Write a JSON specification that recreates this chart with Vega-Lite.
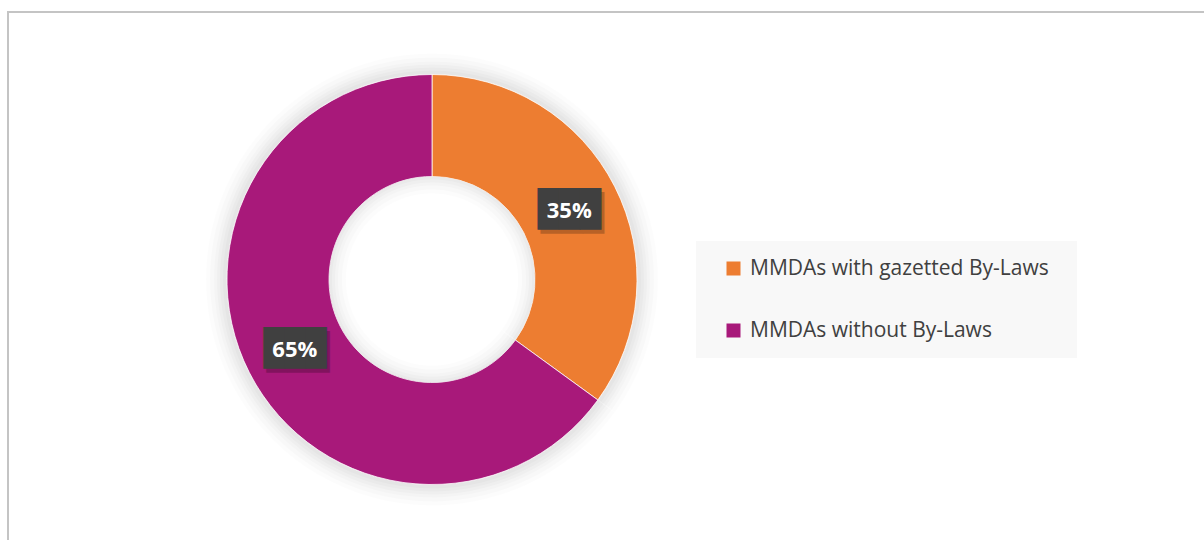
{
  "$schema": "https://vega.github.io/schema/vega-lite/v6.json",
  "width": 1200,
  "height": 540,
  "autosize": {"type": "none"},
  "padding": {"left": 8, "top": 12, "right": 0, "bottom": 0},
  "background": "#FFFFFF",
  "config": {"view": {"stroke": "#C4C4C4", "strokeWidth": 2}},
  "data": {"values": [
    {"category": "MMDAs with gazetted By-Laws", "value": 35, "label": "35%"},
    {"category": "MMDAs without By-Laws", "value": 65, "label": "65%"}
  ]},
  "encoding": {
    "theta": {"field": "value", "type": "quantitative", "stack": true},
    "x": {"value": 424},
    "y": {"value": 267.5}
  },
  "layer": [
    {"mark": {"type": "arc", "fill": "#000", "opacity": 0.012, "innerRadius": 205, "outerRadius": 226}, "encoding": {"detail": {"field": "category"}}},
    {"mark": {"type": "arc", "fill": "#000", "opacity": 0.014, "innerRadius": 205, "outerRadius": 222}, "encoding": {"detail": {"field": "category"}}},
    {"mark": {"type": "arc", "fill": "#000", "opacity": 0.016, "innerRadius": 205, "outerRadius": 218}, "encoding": {"detail": {"field": "category"}}},
    {"mark": {"type": "arc", "fill": "#000", "opacity": 0.018, "innerRadius": 205, "outerRadius": 215}, "encoding": {"detail": {"field": "category"}}},
    {"mark": {"type": "arc", "fill": "#000", "opacity": 0.02, "innerRadius": 205, "outerRadius": 212}, "encoding": {"detail": {"field": "category"}}},
    {"mark": {"type": "arc", "fill": "#000", "opacity": 0.02, "innerRadius": 205, "outerRadius": 209}, "encoding": {"detail": {"field": "category"}}},
    {
      "mark": {"type": "arc", "innerRadius": 103, "outerRadius": 205, "stroke": "#FFFFFF", "strokeWidth": 0.75},
      "encoding": {
        "color": {
          "field": "category", "type": "nominal",
          "scale": {"domain": ["MMDAs with gazetted By-Laws", "MMDAs without By-Laws"], "range": ["#ED7D31", "#A8197A"]},
          "legend": {
            "title": ".", "titleOrient": "right", "titleColor": "rgba(0,0,0,0)", "titleFontSize": 10, "titlePadding": 8,
            "orient": "none", "legendX": 688, "legendY": 229,
            "fillColor": "#F8F8F8", "padding": 17, "symbolOffset": 10,
            "symbolType": "square", "symbolSize": 196, "symbolStrokeWidth": 0,
            "labelFont": "Open Sans", "labelFontSize": 21, "labelColor": "#404040",
            "labelOffset": 6, "rowPadding": 40, "labelLimit": 400
          }
        }
      }
    },
    {"mark": {"type": "arc", "fill": "#000", "opacity": 0.012, "innerRadius": 86, "outerRadius": 103}, "encoding": {"detail": {"field": "category"}}},
    {"mark": {"type": "arc", "fill": "#000", "opacity": 0.014, "innerRadius": 90, "outerRadius": 103}, "encoding": {"detail": {"field": "category"}}},
    {"mark": {"type": "arc", "fill": "#000", "opacity": 0.016, "innerRadius": 94, "outerRadius": 103}, "encoding": {"detail": {"field": "category"}}},
    {"mark": {"type": "arc", "fill": "#000", "opacity": 0.018, "innerRadius": 97, "outerRadius": 103}, "encoding": {"detail": {"field": "category"}}},
    {"mark": {"type": "arc", "fill": "#000", "opacity": 0.02, "innerRadius": 100, "outerRadius": 103}, "encoding": {"detail": {"field": "category"}}},
    {
      "mark": {"type": "text", "text": "███", "font": "DejaVu Sans Mono", "fontSize": 35, "fill": "#000", "opacity": 0.22, "align": "center", "baseline": "middle", "dx": 3, "dy": 4},
      "encoding": {"detail": {"field": "category"}, "radius": {"value": 154}}
    },
    {
      "mark": {"type": "text", "text": "███", "font": "DejaVu Sans Mono", "fontSize": 35, "fill": "#404040", "align": "center", "baseline": "middle"},
      "encoding": {"detail": {"field": "category"}, "radius": {"value": 154}}
    },
    {
      "mark": {"type": "text", "font": "Open Sans", "fontWeight": "bold", "fontSize": 22, "fill": "#FFFFFF", "align": "center", "baseline": "middle", "dy": 1},
      "encoding": {"detail": {"field": "category"}, "radius": {"value": 154}, "text": {"field": "label"}}
    }
  ]
}
